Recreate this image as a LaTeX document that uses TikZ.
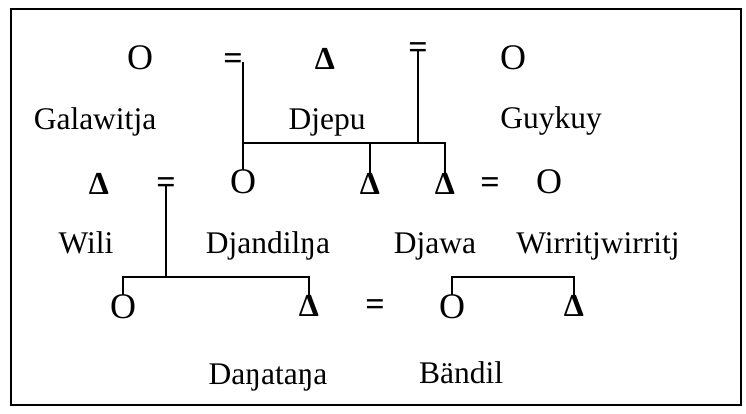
\documentclass[tikz,border=0pt]{standalone}
\usepackage{fontspec}
\setmainfont{Liberation Serif}
\usetikzlibrary{calc}

\tikzset{
	sym/.style={inner sep=0pt, font=\fontsize{36}{40}\selectfont},
	tri/.style={inner sep=0pt, font=\fontsize{32}{36}\selectfont\bfseries},
	eq/.style={inner sep=0pt, font=\fontsize{34}{38}\selectfont\bfseries},
	kinname/.style={inner sep=0pt, anchor=base, font=\fontsize{31.5}{36}\selectfont},
	kin/.style={line width=2.4pt}
}

\begin{document}
\begin{tikzpicture}[x=1pt, y=-1pt]
	\useasboundingbox (0,0) rectangle (746,414);
	\draw[line width=1.8pt] (11,9) rectangle (741,405);
	% first generation
	\node[sym] (gala) at (140,58) {O};
	\node[eq] (eqA) at (233,62) {=};
	\node[tri] (djepu) at (325,59) {Δ};
	\node[eq] (eqB) at (418,51) {=};
	\node[sym] (guykuy) at (513,58) {O};
	\node[kinname] (lgala) at (95,130) {Galawitja};
	\node[kinname] (ldjepu) at (327,130) {Djepu};
	\node[kinname] (lguykuy) at (551,129) {Guykuy};
	% second generation
	\node[tri] (wili) at (99,184) {Δ};
	\node[eq] (eqC) at (166,186) {=};
	\node[sym] (djandil) at (243,182) {O};
	\node[tri] (bro) at (370,184) {Δ};
	\node[tri] (djawa) at (445,184) {Δ};
	\node[eq] (eqD) at (490,186) {=};
	\node[sym] (wirri) at (549,182) {O};
	\node[kinname] (lwili) at (86,253) {Wili};
	\node[kinname] (ldjandil) at (268,253) {Djandilŋa};
	\node[kinname] (ldjawa) at (435,253) {Djawa};
	\node[kinname] (lwirri) at (598,253) {Wirritjwirritj};
	% third generation
	\node[sym] (dana) at (123,307) {O};
	\node[tri] (danatana) at (309,306) {Δ};
	\node[eq] (eqE) at (375,308) {=};
	\node[sym] (bandil) at (452,307) {O};
	\node[tri] (son) at (574,306) {Δ};
	\node[kinname] (ldanatana) at (268,384) {Daŋataŋa};
	\node[kinname] (lbandil) at (461,383) {Bändil};
	% lines
	\coordinate (barA) at (0,143);
	\coordinate (barB) at (0,277);
	\draw[kin] (eqA.east) -- (eqA.east |- djandil.north);
	\draw[kin] (eqA.east |- barA) -| (djawa.north);
	\draw[kin] (eqB.center) -- (eqB |- barA);
	\draw[kin] (bro.north) -- (bro |- barA);
	\draw[kin] (eqC.center) -- (eqC |- barB);
	\draw[kin] (dana.north) |- (danatana.north |- barB) -- (danatana.north);
	\draw[kin] (bandil.north) |- (son.north |- barB) -- (son.north);
\end{tikzpicture}
\end{document}
